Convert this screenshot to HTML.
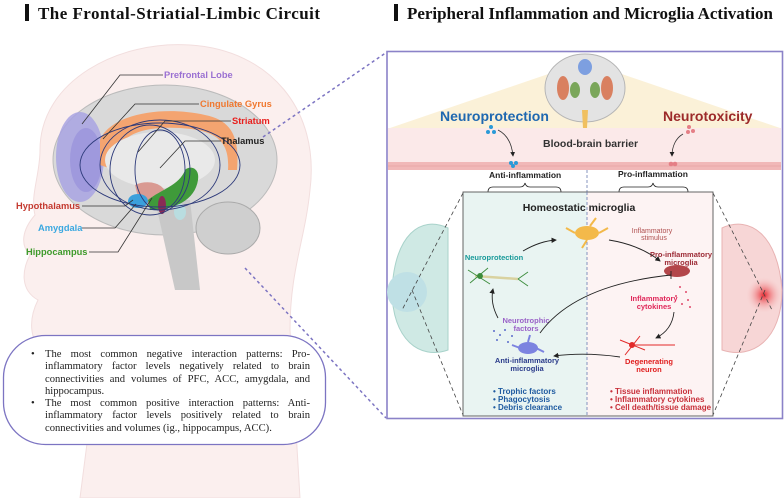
<!DOCTYPE html>
<html><head><meta charset="utf-8"><style>
html,body{margin:0;padding:0;background:#fff;}
#w{position:relative;width:784px;height:498px;overflow:hidden;font-family:"Liberation Sans",sans-serif;}
svg{position:absolute;left:0;top:0;}
.tb{position:absolute;left:30px;top:349px;width:280px;font-family:"Liberation Serif",serif;font-size:10.6px;line-height:12.3px;color:#222;text-align:justify;}
.tb div{position:relative;padding-left:15px;}
.tb div:before{content:"•";position:absolute;left:1px;top:0;}
</style></head><body><div id="w">
<svg width="784" height="498" viewBox="0 0 784 498">
<defs>
<radialGradient id="rs" cx="0.5" cy="0.5" r="0.5"><stop offset="0" stop-color="#e8262e"/><stop offset="1" stop-color="#f7c9c9" stop-opacity="0"/></radialGradient>
<marker id="ar" markerWidth="6" markerHeight="6" refX="5" refY="3" orient="auto"><path d="M0,0L6,3L0,6z" fill="#222"/></marker>
</defs>
<path d="M40,150 C40,80 120,40 190,45 C270,50 320,110 310,190 C305,240 290,270 290,330 L300,498 L80,498 L90,420 C60,410 45,380 42,350 C30,340 28,320 38,300 C20,290 22,270 30,255 C20,245 22,230 35,215 C30,195 40,175 40,150Z" fill="#fbefee" stroke="#f2dede"/>
<ellipse cx="165" cy="160" rx="112" ry="75" fill="#d9d9d9" stroke="#bbb"/>
<ellipse cx="228" cy="228" rx="32" ry="26" fill="#cfcfcf" stroke="#aaa"/>
<path d="M155,200 L175,290 L200,290 L190,200Z" fill="#c8c8c8"/>
<ellipse cx="80" cy="157" rx="24" ry="45" fill="#a8a3e2" opacity="0.85"/>
<ellipse cx="86" cy="160" rx="16" ry="32" fill="#9b95dc" opacity="0.8"/>
<path d="M100,140 C110,115 160,105 205,115 C230,120 240,135 237,170 L228,170 C230,140 215,130 180,128 C140,126 120,135 112,160 L115,170 L100,165Z" fill="#f4a470"/>
<ellipse cx="160" cy="160" rx="55" ry="28" fill="#e9e9e9"/>
<path d="M135,185 C150,178 170,185 165,200 L140,205Z" fill="#d99a92"/>
<ellipse cx="138" cy="201" rx="10" ry="7" fill="#3aa0dc"/>
<path d="M148,200 C160,190 180,185 185,170 C190,165 200,168 198,180 C195,200 175,210 150,210Z" fill="#3f9a3a"/>
<ellipse cx="162" cy="205" rx="4" ry="9" fill="#8a2a55"/>
<ellipse cx="180" cy="212" rx="6" ry="8" fill="#b9dde0"/>
<g fill="none" stroke="#2d3a7a" stroke-width="0.9">
<ellipse cx="160" cy="165" rx="80" ry="42"/><ellipse cx="160" cy="165" rx="60" ry="45"/><ellipse cx="150" cy="170" rx="40" ry="45"/><ellipse cx="160" cy="170" rx="25" ry="40"/>
</g>
<g fill="none" stroke="#333" stroke-width="0.8">
<path d="M163,75 H120 L82,124"/><path d="M199,104 H135 L103,139"/><path d="M231,121 H165 L138,152"/><path d="M221,141 H185 L160,168"/>
<path d="M82,206 H125 L133,200"/><path d="M82,228 H115 L136,204"/><path d="M89,252 H118 L152,198"/>
</g>
<g font-weight="bold" font-size="9.3">
<text x="164" y="78" fill="#9a70d2">Prefrontal Lobe</text>
<text x="200" y="107" fill="#f0782f">Cingulate Gyrus</text>
<text x="232" y="124" fill="#e8201e">Striatum</text>
<text x="221" y="144" fill="#222">Thalamus</text>
<text x="16" y="209" fill="#c4392f">Hypothalamus</text>
<text x="38" y="231" fill="#3aa8e0">Amygdala</text>
<text x="26" y="255" fill="#3d9a2a">Hippocampus</text>
</g>
<rect x="25" y="4" width="4" height="17" fill="#111"/>
<text x="38" y="19" font-family="Liberation Serif,serif" font-weight="bold" font-size="17" textLength="282" fill="#111">The Frontal-Striatial-Limbic Circuit</text>
<rect x="394" y="4" width="4" height="17" fill="#111"/>
<text x="407" y="19" font-family="Liberation Serif,serif" font-weight="bold" font-size="17" textLength="366" fill="#111">Peripheral Inflammation and Microglia Activation</text>
<g stroke="#7c74c2" stroke-width="1.5" stroke-dasharray="3,3" fill="none">
<path d="M263,137 L387,52"/><path d="M245,268 L386,418"/>
</g>
<rect x="3.5" y="335.5" width="322" height="109" rx="42" fill="#fff" stroke="#7c74c2" stroke-width="1.3"/>
<rect x="387" y="51.5" width="395.5" height="367" fill="#fff" stroke="#8b82c8" stroke-width="1.6"/>
<path d="M390,128 L560,70 L610,70 L780,128Z" fill="#fbf1d8"/>
<rect x="388" y="128" width="393" height="42" fill="#fbe9e9"/>
<rect x="388" y="162" width="393" height="8" fill="#f1b8b8"/>
<path d="M388,166 H781" stroke="#e29a9a" stroke-width="0.6"/>
<ellipse cx="585" cy="88" rx="40" ry="34" fill="#e3e3e3" stroke="#b5b5b5"/>
<path d="M582,110 L588,110 L587,128 L583,128Z" fill="#f0c060"/>
<ellipse cx="585" cy="67" rx="7" ry="8" fill="#7d9fe0"/>
<ellipse cx="563" cy="88" rx="6" ry="12" fill="#d98060"/><ellipse cx="607" cy="88" rx="6" ry="12" fill="#d98060"/>
<ellipse cx="575" cy="90" rx="5" ry="8" fill="#7aa65a"/><ellipse cx="595" cy="90" rx="5" ry="8" fill="#7aa65a"/>
<text x="440" y="121" font-weight="bold" font-size="14" fill="#1f68b0">Neuroprotection</text>
<text x="663" y="121" font-weight="bold" font-size="14" fill="#9c2a2a">Neurotoxicity</text>
<text x="543" y="147" font-weight="bold" font-size="10.5" fill="#333">Blood-brain barrier</text>
<g fill="#2a9ad8"><circle cx="491" cy="127" r="2"/><circle cx="488" cy="132" r="2"/><circle cx="494" cy="132" r="2"/><circle cx="511" cy="163" r="2"/><circle cx="516" cy="163" r="2"/><circle cx="513" cy="166" r="2"/></g>
<g fill="#e57f86"><circle cx="689" cy="127" r="2"/><circle cx="693" cy="131" r="2"/><circle cx="688" cy="132" r="2"/><circle cx="671" cy="164" r="2.3"/><circle cx="675" cy="164" r="2.3"/></g>
<g fill="none" stroke="#333" stroke-width="0.8">
<path d="M498,130 C508,135 512,145 513,156" marker-end="url(#ar)"/>
<path d="M683,134 C676,138 672,146 672,156" marker-end="url(#ar)"/>
</g>
<text x="489" y="178" font-weight="bold" font-size="8.5" fill="#222">Anti-inflammation</text>
<text x="618" y="177" font-weight="bold" font-size="8.5" fill="#222">Pro-inflammation</text>
<g fill="none" stroke="#222" stroke-width="0.8">
<path d="M488,192 Q488,187 493,187 H520 Q524,187 525,183 Q526,187 530,187 H556 Q561,187 561,192"/>
<path d="M619,192 Q619,187 624,187 H648 Q652,187 653,183 Q654,187 658,187 H683 Q688,187 688,192"/>
</g>
<line x1="587" y1="170" x2="587" y2="416" stroke="#6a7ab0" stroke-width="0.8" stroke-dasharray="3,2"/>
<path d="M448,228 C420,215 395,235 392,290 C392,340 420,360 448,350Z" fill="#cfe9e4" stroke="#a8d2ca"/>
<circle cx="407" cy="292" r="20" fill="#bfe0e5"/>
<path d="M722,228 C750,215 778,235 782,290 C782,340 752,360 722,350Z" fill="#f7d6d6" stroke="#e8b3b3"/>
<circle cx="764" cy="295" r="18" fill="url(#rs)"/>
<g stroke="#444" stroke-width="0.8" stroke-dasharray="4,3" fill="none">
<path d="M463,193 L402,310"/><path d="M412,290 L463,415"/><path d="M713,193 L772,310"/><path d="M765,290 L713,415"/>
</g>
<rect x="463" y="192" width="124" height="224" fill="#e9f4f2"/>
<rect x="587" y="192" width="126" height="224" fill="#fdf3f3"/>
<rect x="463" y="192" width="250" height="224" fill="none" stroke="#555" stroke-width="0.9"/>
<line x1="587" y1="192" x2="587" y2="416" stroke="#6a7ab0" stroke-width="0.8" stroke-dasharray="3,2"/>
<text x="579" y="211" text-anchor="middle" font-weight="bold" font-size="10.5" fill="#222">Homeostatic microglia</text>
<g fill="#f3b94a"><ellipse cx="587" cy="233" rx="12" ry="7"/><path d="M575,233 L566,228 M599,233 L608,228 M587,240 L582,248 M590,226 L596,218" stroke="#f3b94a" stroke-width="2"/></g>
<ellipse cx="677" cy="271" rx="13" ry="6" fill="#b3464a"/>
<g fill="#e04a6a"><circle cx="680" cy="287" r="1"/><circle cx="686" cy="292" r="1"/><circle cx="676" cy="296" r="1"/><circle cx="688" cy="300" r="1"/><circle cx="682" cy="304" r="1"/><circle cx="690" cy="307" r="1"/></g>
<g stroke="#e22a2a" stroke-width="1" fill="none"><circle cx="632" cy="345" r="2.5" fill="#e22a2a"/><path d="M620,340 L645,350 M625,355 L640,336 M632,345 L675,345"/></g>
<ellipse cx="528" cy="348" rx="10" ry="6" fill="#7c83e0"/>
<path d="M520,348 L512,345 M536,348 L544,352 M528,342 L530,335" stroke="#7c83e0" stroke-width="2"/>
<g fill="#5a6acb"><circle cx="494" cy="331" r="1"/><circle cx="500" cy="335" r="1"/><circle cx="505" cy="330" r="1"/><circle cx="497" cy="340" r="1"/><circle cx="508" cy="342" r="1"/><circle cx="512" cy="336" r="1"/></g>
<path d="M475,276 L518,279" stroke="#d9d2a0" stroke-width="2.5"/>
<g stroke="#3c8c3c" stroke-width="0.9" fill="none"><circle cx="480" cy="276" r="2.5" fill="#3c8c3c"/><path d="M468,270 L490,284 M470,283 L488,268 M518,279 L528,272 M518,279 L528,286"/></g>
<text x="652" y="233" text-anchor="middle" font-size="7" fill="#b05050">Inflammatory</text>
<text x="654" y="240" text-anchor="middle" font-size="7" fill="#b05050">stimulus</text>
<text x="681" y="257" text-anchor="middle" font-weight="bold" font-size="7.5" fill="#9c2a35">Pro-inflammatory</text>
<text x="681" y="265" text-anchor="middle" font-weight="bold" font-size="7.5" fill="#9c2a35">microglia</text>
<text x="654" y="301" text-anchor="middle" font-weight="bold" font-size="7.5" fill="#e0285a">Inflammatory</text>
<text x="654" y="309" text-anchor="middle" font-weight="bold" font-size="7.5" fill="#e0285a">cytokines</text>
<text x="649" y="364" text-anchor="middle" font-weight="bold" font-size="7.5" fill="#e01e1e">Degenerating</text>
<text x="649" y="372" text-anchor="middle" font-weight="bold" font-size="7.5" fill="#e01e1e">neuron</text>
<text x="527" y="363" text-anchor="middle" font-weight="bold" font-size="7.5" fill="#2a3b8a">Anti-inflammatory</text>
<text x="527" y="371" text-anchor="middle" font-weight="bold" font-size="7.5" fill="#2a3b8a">microglia</text>
<text x="526" y="323" text-anchor="middle" font-weight="bold" font-size="7.5" fill="#9a62c8">Neurotrophic</text>
<text x="526" y="331" text-anchor="middle" font-weight="bold" font-size="7.5" fill="#9a62c8">factors</text>
<text x="494" y="260" text-anchor="middle" font-weight="bold" font-size="7.5" fill="#199a9a">Neuroprotection</text>
<g fill="none" stroke="#222" stroke-width="0.9">
<path d="M523,251 Q540,241 556,240" marker-end="url(#ar)"/>
<path d="M609,240 Q640,245 660,261" marker-end="url(#ar)"/>
<path d="M674,312 Q672,330 656,338" marker-end="url(#ar)"/>
<path d="M620,357 Q585,352 554,356" marker-end="url(#ar)"/>
<path d="M498,318 Q490,303 493,289" marker-end="url(#ar)"/>
<path d="M540,333 Q575,285 671,275"/><path d="M671,271 L671,279"/>
</g>
<g font-weight="bold" font-size="8" fill="#1e5aa0">
<text x="493" y="394">•  Trophic factors</text><text x="493" y="402">•  Phagocytosis</text><text x="493" y="410">•  Debris clearance</text>
</g>
<g font-weight="bold" font-size="8" fill="#c8303a">
<text x="610" y="394">•  Tissue inflammation</text><text x="610" y="402">•  Inflammatory cytokines</text><text x="610" y="410">•  Cell death/tissue damage</text>
</g>
</svg>
<div class="tb">
<div>The most common negative interaction patterns: Pro-inflammatory factor levels negatively related to brain connectivities and volumes of PFC, ACC, amygdala, and hippocampus.</div>
<div>The most common positive interaction patterns: Anti-inflammatory factor levels positively related to brain connectivities and volumes (ig., hippocampus, ACC).</div>
</div>
</div></body></html>
